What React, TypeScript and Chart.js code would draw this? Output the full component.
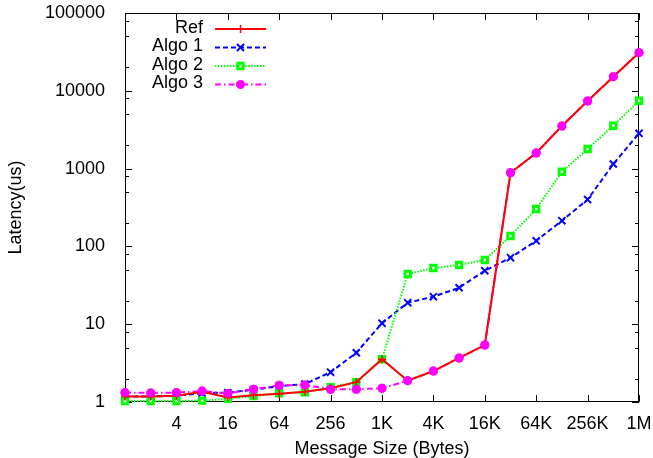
import React, { useEffect, useRef } from 'react';
import { Chart, registerables } from 'chart.js';

Chart.register(...registerables);

// Message sizes (bytes), powers of two from 1 to 1M
const sizes = ['1', '2', '4', '8', '16', '32', '64', '128', '256', '512', '1K', '2K', '4K', '8K', '16K', '32K', '64K', '128K', '256K', '512K', '1M'];
// Sizes shown as tick labels on the x axis
const xTickLabels = ['4', '16', '64', '256', '1K', '4K', '16K', '64K', '256K', '1M'];

// Latency (us)
const refValues = [1.18, 1.18, 1.2, 1.35, 1.14, 1.22, 1.28, 1.35, 1.5, 1.8, 3.55, 1.88, 2.5, 3.68, 5.4, 885, 1585, 3530, 7390, 15200, 30900];
const algo1Values = [1.18, 1.18, 1.2, 1.3, 1.32, 1.44, 1.6, 1.7, 2.42, 4.3, 10.3, 18.9, 22.6, 29.4, 48.7, 71.6, 118, 214, 400, 1146, 2840];
const algo2Values = [1.03, 1.03, 1.03, 1.04, 1.1, 1.19, 1.29, 1.33, 1.55, 1.8, 3.55, 44.2, 52.7, 57.7, 66.9, 136, 302, 912, 1786, 3560, 7460];
const algo3Values = [1.32, 1.31, 1.32, 1.38, 1.29, 1.46, 1.64, 1.65, 1.46, 1.46, 1.5, 1.88, 2.5, 3.68, 5.4, 885, 1585, 3530, 7390, 15200, 30900];

const yMajorTicks = [1, 10, 100, 1000, 10000, 100000];
const yMinorFactors = [2, 5, 8];

const FONT = "'Liberation Sans', Arial, Helvetica, sans-serif";

const framePlugin = {
  id: 'frame',
  beforeDatasetsDraw(chart: any) {
    const { ctx, chartArea: a, scales } = chart;
    ctx.save();
    ctx.strokeStyle = '#000';
    ctx.lineWidth = 1;
    ctx.strokeRect(a.left + 0.5, a.top + 0.5, a.right - a.left - 1, a.bottom - a.top - 1);
    ctx.beginPath();
    const major = 7;
    const minor = 4;
    for (const v of yMajorTicks) {
      const y = Math.round(scales.y.getPixelForValue(v)) + 0.5;
      ctx.moveTo(a.left, y); ctx.lineTo(a.left + major, y);
      ctx.moveTo(a.right, y); ctx.lineTo(a.right - major, y);
      if (v < 100000) {
        for (const f of yMinorFactors) {
          const ym = Math.round(scales.y.getPixelForValue(v * f)) + 0.5;
          ctx.moveTo(a.left, ym); ctx.lineTo(a.left + minor, ym);
          ctx.moveTo(a.right, ym); ctx.lineTo(a.right - minor, ym);
        }
      }
    }
    for (const lbl of xTickLabels) {
      const i = sizes.indexOf(lbl);
      const x = Math.round(scales.x.getPixelForValue(i)) + 0.5;
      ctx.moveTo(x, a.bottom); ctx.lineTo(x, a.bottom - major);
      ctx.moveTo(x, a.top); ctx.lineTo(x, a.top + major);
    }
    ctx.stroke();
    ctx.restore();
  },
  afterDatasetsDraw(chart: any) {
    // circles of the last series sit on top of the lines, as in the original
    const meta = chart.getDatasetMeta(3);
    meta.data.forEach((el: any) => el.draw(chart.ctx, chart.chartArea));
  },
};

function drawMarker(ctx: CanvasRenderingContext2D, ds: any, x: number, y: number) {
  const r = ds.pointRadius;
  ctx.save();
  ctx.setLineDash([]);
  ctx.strokeStyle = ds.borderColor;
  ctx.fillStyle = ds.pointBackgroundColor || ds.borderColor;
  ctx.lineWidth = ds.pointBorderWidth;
  ctx.beginPath();
  if (ds.pointStyle === 'cross') {
    ctx.moveTo(x - r, y); ctx.lineTo(x + r, y);
    ctx.moveTo(x, y - r); ctx.lineTo(x, y + r);
    ctx.stroke();
  } else if (ds.pointStyle === 'crossRot') {
    const o = r * Math.SQRT1_2;
    ctx.moveTo(x - o, y - o); ctx.lineTo(x + o, y + o);
    ctx.moveTo(x - o, y + o); ctx.lineTo(x + o, y - o);
    ctx.stroke();
  } else if (ds.pointStyle === 'rect') {
    const s = r * Math.SQRT1_2;
    ctx.rect(x - s, y - s, 2 * s, 2 * s);
    ctx.fill();
    ctx.stroke();
  } else {
    ctx.arc(x, y, r, 0, Math.PI * 2);
    ctx.fill();
    if (ds.pointBorderWidth > 0) ctx.stroke();
  }
  ctx.restore();
}

const legendPlugin = {
  id: 'gpLegend',
  afterDraw(chart: any) {
    const { ctx } = chart;
    const rows = [29, 47.5, 66, 84.5];
    ctx.save();
    ctx.font = `18px ${FONT}`;
    ctx.fillStyle = '#000';
    ctx.textAlign = 'right';
    ctx.textBaseline = 'middle';
    chart.data.datasets.forEach((ds: any, i: number) => {
      const y = rows[i];
      ctx.fillStyle = '#000';
      ctx.fillText(ds.label, 203, y - 1);
      ctx.save();
      ctx.strokeStyle = ds.borderColor;
      ctx.lineWidth = ds.borderWidth;
      ctx.setLineDash(ds.borderDash || []);
      ctx.beginPath();
      ctx.moveTo(215, y);
      ctx.lineTo(266, y);
      ctx.stroke();
      ctx.restore();
      drawMarker(ctx, ds, 240.5, y);
    });
    ctx.restore();
  },
};

export default function App() {
  const canvasRef = useRef<HTMLCanvasElement | null>(null);

  useEffect(() => {
    const canvas = canvasRef.current;
    if (!canvas) return;
    const font = { family: FONT, size: 18 };
    const chart = new Chart(canvas, {
      type: 'line',
      data: {
        labels: sizes,
        datasets: [
          {
            label: 'Ref', data: refValues, borderColor: '#ff0000', backgroundColor: '#ff0000',
            borderWidth: 2, pointStyle: 'cross', pointRadius: 4, pointBorderWidth: 1.5,
            pointBackgroundColor: '#ff0000', order: 0, clip: false,
          },
          {
            label: 'Algo 1', data: algo1Values, borderColor: '#0000ff', backgroundColor: '#0000ff',
            borderWidth: 2, borderDash: [5, 3], pointStyle: 'crossRot', pointRadius: 5, pointBorderWidth: 2,
            pointBackgroundColor: '#0000ff', order: 3, clip: false,
          },
          {
            label: 'Algo 2', data: algo2Values, borderColor: '#00ff00', backgroundColor: '#00ff00',
            borderWidth: 2, borderDash: [1.5, 1.5], pointStyle: 'rect', pointRadius: 3.8, pointBorderWidth: 3,
            pointBackgroundColor: '#ffffff', order: 2, clip: false,
          },
          {
            label: 'Algo 3', data: algo3Values, borderColor: '#ff00ff', backgroundColor: '#ff00ff',
            borderWidth: 2, borderDash: [6, 3, 1.5, 3], pointStyle: 'circle', pointRadius: 4.5, pointBorderWidth: 0,
            pointBackgroundColor: '#ff00ff', order: 1, clip: false,
          },
        ] as any,
      },
      options: {
        animation: false,
        responsive: false,
        events: [],
        layout: { padding: { top: 13, right: 14, left: 0, bottom: 0 } },
        plugins: { legend: { display: false }, tooltip: { enabled: false } },
        scales: {
          x: {
            type: 'category',
            grid: { display: false },
            border: { display: false },
            ticks: {
              autoSkip: false, maxRotation: 0, minRotation: 0, padding: 3, color: '#000', font,
              callback: (_v: any, i: number) => (xTickLabels.includes(sizes[i]) ? sizes[i] : ''),
            },
            title: {
              display: true, text: 'Message Size (Bytes)', color: '#000',
              font: { family: FONT, size: 18, lineHeight: 1.0 }, padding: { top: 0, bottom: 0 },
            },
            afterFit: (s: any) => {
              s.height = 56;
              s.paddingLeft = 0; s.paddingRight = 0; s.paddingTop = 0; s.paddingBottom = 0;
            },
          },
          y: {
            type: 'logarithmic',
            min: 1,
            max: 100000,
            grid: { display: false },
            border: { display: false },
            ticks: {
              autoSkip: false, padding: 12, color: '#000', font,
              callback: (v: any) => (yMajorTicks.includes(Number(v)) ? String(v) : ''),
            },
            title: { display: true, text: 'Latency(us)', color: '#000', font, padding: { top: 5, bottom: 4 } },
            afterFit: (s: any) => {
              s.width = 125;
              s.paddingLeft = 0; s.paddingRight = 0; s.paddingTop = 0; s.paddingBottom = 0;
            },
          },
        },
      } as any,
      plugins: [framePlugin, legendPlugin],
    });
    return () => chart.destroy();
  }, []);

  return (
    <div style={{ position: 'fixed', left: 0, top: 0, width: 653, height: 458, background: '#fff' }}>
      <canvas ref={canvasRef} width={653} height={458} style={{ display: 'block' }} />
    </div>
  );
}
